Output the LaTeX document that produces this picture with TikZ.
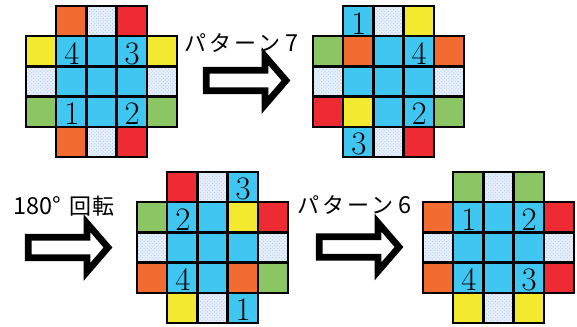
\documentclass[tikz,border=0pt]{standalone}
\usepackage{fontspec}
\newfontfamily\jpfont[LetterSpace=14]{Noto Sans CJK JP}
\newfontfamily\jpdigits{Noto Sans CJK JP}
\usetikzlibrary{patterns}
\definecolor{tileorange}{HTML}{F26B30}
\definecolor{tilered}{HTML}{EE2A33}
\definecolor{tileyellow}{HTML}{F3EA2F}
\definecolor{tilegreen}{HTML}{8CC563}
\definecolor{tileblue}{HTML}{3FC6F1}
\definecolor{tiledot}{HTML}{A9C9EC}
\definecolor{tilepale}{HTML}{E6EFFA}

% one 5x5 board without its corners: #1 name, #2 top left, #3 rows of colour/number
\newcommand{\tilegrid}[3]{%
  \begin{scope}[shift={#2}]
    \foreach \row [count=\r from 0] in {#3} {
      \foreach \t/\n [count=\c from 0] in \row {
        \path[cell, tile-\t] (\c*30.2,\r*30.2) rectangle +(30.2,30.2);
        \ifx\n\empty\else
          \node[num] (#1-\n) at (\c*30.2+15.6,\r*30.2+17.3) {\n};
        \fi
      }
    }
  \end{scope}}

\begin{document}
\begin{tikzpicture}[x=0.3mm, y=-0.3mm,
  cell/.style={draw=black, line width=0.75mm},
  tile-or/.style={fill=tileorange},
  tile-rd/.style={fill=tilered},
  tile-ye/.style={fill=tileyellow},
  tile-gr/.style={fill=tilegreen},
  tile-bl/.style={fill=tileblue},
  tile-pt/.style={preaction={fill=tilepale}, pattern=crosshatch dots, pattern color=tiledot},
  tile-no/.style={draw=none},
  num/.style={font=\fontsize{28}{30}\selectfont, inner sep=0pt},
  jptext/.style={font=\jpfont\fontsize{18.8}{20}\selectfont, inner sep=0pt, anchor=base west},
  blockarrow/.style={draw=black, line width=2mm, fill=white, line join=miter},
  hollow arrow/.pic={
    \draw[blockarrow] (3.3,-10.3) -- (62,-10.3) -- (62,-24.3) -- (83,0)
      -- (62,24.3) -- (62,10.3) -- (3.3,10.3) -- cycle;
  }
]
\useasboundingbox (0,0) rectangle (577,326);

% boards
\tilegrid{start}{(26,6)}{
  {no/,or/,pt/,rd/,no/},
  {ye/,bl/4,bl/,bl/3,ye/},
  {pt/,bl/,bl/,bl/,pt/},
  {gr/,bl/1,bl/,bl/2,gr/},
  {no/,or/,pt/,rd/,no/}}
\tilegrid{afterseven}{(313,6)}{
  {no/,bl/1,pt/,ye/,no/},
  {gr/,or/,bl/,bl/4,or/},
  {pt/,bl/,bl/,bl/,pt/},
  {rd/,ye/,bl/,bl/2,gr/},
  {no/,bl/3,pt/,rd/,no/}}
\tilegrid{turned}{(137,172)}{
  {no/,rd/,pt/,bl/3,no/},
  {gr/,bl/2,bl/,ye/,rd/},
  {pt/,bl/,bl/,bl/,pt/},
  {or/,bl/4,bl/,or/,gr/},
  {no/,ye/,pt/,bl/1,no/}}
\tilegrid{aftersix}{(423,172)}{
  {no/,gr/,pt/,gr/,no/},
  {or/,bl/1,bl/,bl/2,rd/},
  {pt/,bl/,bl/,bl/,pt/},
  {or/,bl/4,bl/,bl/3,rd/},
  {no/,ye/,pt/,ye/,no/}}

% steps between the boards
\pic at (203,80.5) {hollow arrow};
\pic at (25,247.5) {hollow arrow};
\pic at (316,247) {hollow arrow};

\node[jptext] (stepseven) at (184,51.5) {パターン\kern4pt{\jpdigits\fontsize{20}{22}\selectfont 7}};
\node[jptext] (stepturn) at (13,214) {\jpdigits{\fontsize{20}{22}\selectfont 180°}\hspace{7pt}回\kern1pt 転};
\node[jptext] (stepsix) at (297,213.5) {パターン\kern4pt{\jpdigits\fontsize{20}{22}\selectfont 6}};
\end{tikzpicture}
\end{document}
